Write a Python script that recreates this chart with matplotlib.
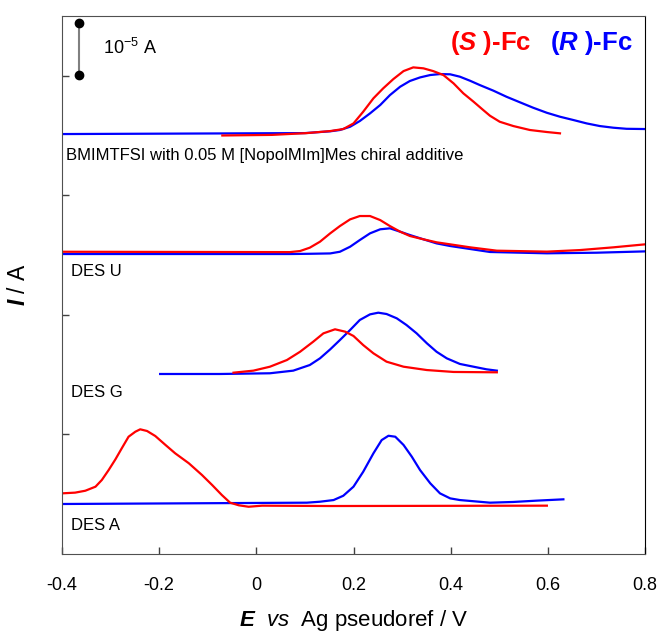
import numpy as np
import matplotlib
matplotlib.use("Agg")
import matplotlib.pyplot as plt

plt.rcParams['font.family'] = ['Liberation Sans', 'DejaVu Sans']
plt.rcParams['mathtext.fontset'] = 'custom'
plt.rcParams['mathtext.rm'] = 'Liberation Sans'
plt.rcParams['mathtext.it'] = 'Liberation Sans:italic'
plt.rcParams['mathtext.bf'] = 'Liberation Sans:bold'
plt.rcParams['mathtext.bfit'] = 'Liberation Sans:bold:italic'

# voltammograms, stacked with vertical offsets (y in offset units)
# BMIMTFSI + chiral additive
bm_S_E = [-0.07, 0.032, 0.104, 0.152, 0.179, 0.200, 0.220, 0.241, 0.261, 0.282, 0.303,
          0.323, 0.344, 0.364, 0.385, 0.406, 0.426, 0.447, 0.467, 0.481, 0.501, 0.529,
          0.563, 0.598, 0.625]
bm_S_I = [3.50, 3.505, 3.52, 3.537, 3.554, 3.601, 3.699, 3.811, 3.894, 3.972, 4.039,
          4.070, 4.062, 4.039, 4.006, 3.936, 3.853, 3.783, 3.713, 3.665, 3.615, 3.579,
          3.546, 3.529, 3.518]
bm_R_E = [-0.40, 0.10, 0.152, 0.172, 0.193, 0.213, 0.234, 0.255, 0.275, 0.296, 0.316,
          0.337, 0.358, 0.378, 0.399, 0.419, 0.440, 0.460, 0.488, 0.515, 0.543, 0.570,
          0.598, 0.625, 0.653, 0.680, 0.707, 0.735, 0.762, 0.80]
bm_R_I = [3.512, 3.52, 3.535, 3.546, 3.573, 3.621, 3.685, 3.755, 3.838, 3.908, 3.956,
          3.986, 4.006, 4.014, 4.012, 3.992, 3.958, 3.922, 3.875, 3.824, 3.777, 3.732,
          3.690, 3.657, 3.629, 3.601, 3.579, 3.565, 3.556, 3.554]

# DES U
u_S_E = [-0.40, 0.069, 0.090, 0.110, 0.131, 0.152, 0.172, 0.193, 0.213, 0.234, 0.255,
         0.275, 0.296, 0.316, 0.344, 0.371, 0.399, 0.440, 0.495, 0.598, 0.666, 0.735, 0.80]
u_S_I = [2.527, 2.524, 2.533, 2.561, 2.611, 2.681, 2.742, 2.798, 2.826, 2.826, 2.792,
         2.742, 2.695, 2.659, 2.631, 2.606, 2.589, 2.564, 2.536, 2.528, 2.541, 2.564, 2.589]
u_R_E = [-0.40, 0.069, 0.110, 0.152, 0.172, 0.193, 0.213, 0.234, 0.255, 0.275, 0.296,
         0.316, 0.344, 0.371, 0.399, 0.440, 0.481, 0.598, 0.700, 0.80]
u_R_I = [2.508, 2.508, 2.510, 2.513, 2.527, 2.569, 2.625, 2.681, 2.715, 2.723, 2.695,
         2.667, 2.631, 2.597, 2.575, 2.550, 2.525, 2.514, 2.519, 2.530]

# DES G
g_S_E = [-0.047, -0.006, 0.028, 0.063, 0.090, 0.117, 0.138, 0.162, 0.183, 0.200, 0.220,
         0.241, 0.268, 0.303, 0.351, 0.406, 0.495]
g_S_I = [1.515, 1.532, 1.565, 1.621, 1.690, 1.774, 1.844, 1.878, 1.858, 1.822, 1.746,
         1.677, 1.607, 1.565, 1.537, 1.521, 1.518]
g_R_E = [-0.198, -0.075, 0.028, 0.076, 0.110, 0.131, 0.152, 0.172, 0.193, 0.213, 0.234,
         0.251, 0.268, 0.289, 0.309, 0.330, 0.351, 0.371, 0.392, 0.419, 0.447, 0.474, 0.495]
g_R_I = [1.504, 1.504, 1.510, 1.532, 1.579, 1.635, 1.710, 1.788, 1.872, 1.956, 2.003,
         2.017, 2.006, 1.970, 1.914, 1.844, 1.761, 1.690, 1.635, 1.588, 1.565, 1.543, 1.532]

# DES A
a_S_E = [-0.400, -0.373, -0.352, -0.331, -0.318, -0.304, -0.290, -0.277, -0.263, -0.249,
         -0.239, -0.225, -0.208, -0.187, -0.167, -0.139, -0.112, -0.091, -0.071, -0.054,
         -0.036, -0.016, 0.012, 0.152, 0.598]
a_S_I = [0.505, 0.511, 0.527, 0.561, 0.617, 0.700, 0.790, 0.882, 0.979, 1.021,
         1.041, 1.027, 0.985, 0.910, 0.840, 0.757, 0.659, 0.575, 0.491, 0.427,
         0.405, 0.393, 0.402, 0.399, 0.402]
a_R_E = [-0.40, 0.104, 0.131, 0.159, 0.179, 0.200, 0.220, 0.241, 0.258, 0.272, 0.286,
         0.303, 0.320, 0.337, 0.358, 0.378, 0.399, 0.419, 0.481, 0.529, 0.577, 0.632]
a_R_I = [0.416, 0.427, 0.435, 0.449, 0.485, 0.561, 0.686, 0.840, 0.951, 0.987, 0.979,
         0.910, 0.812, 0.700, 0.589, 0.505, 0.463, 0.449, 0.427, 0.433, 0.444, 0.455]

labels = ["BMIMTFSI with 0.05 M [NopolMIm]Mes chiral additive", "DES U", "DES G", "DES A"]
label_x = [-0.392, -0.381, -0.381, -0.381]
label_y = [3.336, 2.36, 1.345, 0.24]

xticks = [-0.4, -0.2, 0, 0.2, 0.4, 0.6, 0.8]
xticklabels = ["-0.4", "-0.2", "0", "0.2", "0.4", "0.6", "0.8"]

fig = plt.figure(figsize=(6.59, 6.39), dpi=100)
ax = fig.add_axes([62 / 659, 85.3 / 639, 583 / 659, 537.7 / 639])

lw = 1.6
for E, I in [(bm_R_E, bm_R_I), (u_R_E, u_R_I), (g_R_E, g_R_I), (a_R_E, a_R_I)]:
    ax.plot(E, I, color='blue', lw=lw)
for E, I in [(bm_S_E, bm_S_I), (u_S_E, u_S_I), (g_S_E, g_S_I), (a_S_E, a_S_I)]:
    ax.plot(E, I, color='red', lw=lw)

for lab, x, y in zip(labels, label_x, label_y):
    ax.text(x, y, lab, fontsize=12, va='center', ha='left')

# scale bar
ax.plot([-0.365, -0.365], [4.006, 4.438], color='gray', lw=1.5, zorder=3)
ax.plot([-0.365, -0.365], [4.006, 4.438], 'o', color='black', ms=6, zorder=4)
ax.text(-0.316, 4.23, r'10$^{-5}$ A', fontsize=13, va='center', ha='left')

# legend text
ax.text(0.399, 4.27, r'($\mathbfit{S}$ )-Fc', color='red', fontsize=18.5,
        fontweight='bold', va='center', ha='left')
ax.text(0.775, 4.27, r'($\mathbfit{R}$ )-Fc', color='blue', fontsize=18.5,
        fontweight='bold', va='center', ha='right')

ax.set_xlim(-0.4, 0.8)
ax.set_ylim(0, 4.5)
ax.set_xticks(xticks)
ax.set_xticklabels(xticklabels)
ax.set_yticks([1, 2, 3, 4])
ax.set_yticklabels([])
ax.tick_params(direction='in', length=5, width=1, labelsize=13, pad=17)
ax.tick_params(axis='x', colors='#404040', labelcolor='black')
ax.tick_params(axis='y', colors='#404040')
for s in ['left', 'bottom', 'top']:
    ax.spines[s].set_color('#505050')
ax.spines['right'].set_color('black')

ax.set_xlabel(r'$\mathbfit{E}$  $\mathit{vs}$  Ag pseudoref / V', fontsize=16, labelpad=10)
ax.set_ylabel(r'$\mathbfit{I}$ / A', fontsize=16.5, labelpad=6)

fig.savefig('out.png', dpi=100)
